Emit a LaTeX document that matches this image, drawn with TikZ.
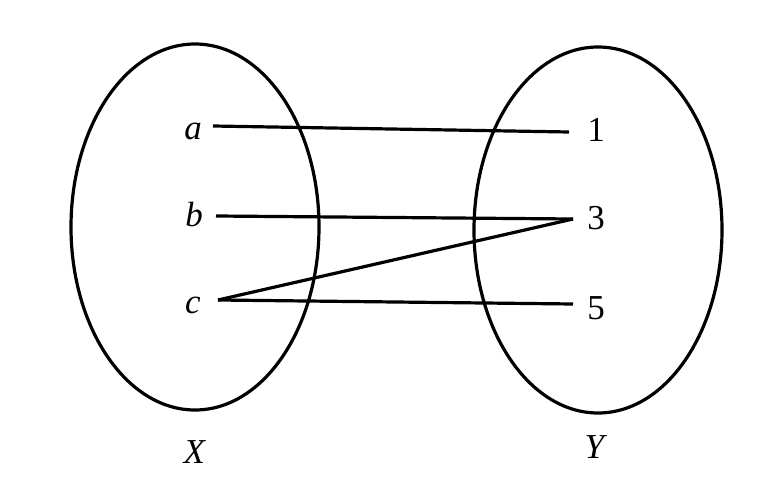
\documentclass[tikz,border=0pt]{standalone}
\usepackage{fontspec}
\setmainfont{Liberation Serif}
\begin{document}
\begin{tikzpicture}[x=1pt,y=-1pt,
  setline/.style={line width=3.2pt},
  lbl/.style={font=\fontsize{35}{42}\selectfont, inner sep=0pt}]
\useasboundingbox (0,0) rectangle (768,484);
% sets
\draw[setline] (195,227) ellipse [x radius=124, y radius=183];
\draw[setline] (598,230) ellipse [x radius=124, y radius=183];
% labels
\node[lbl] (a) at (193,131) {\textit{a}};
\node[lbl] (b) at (194,215) {\textit{b}};
\node[lbl] (c) at (193,305) {\textit{c}};
\node[lbl] (n1) at (596,130) {1};
\node[lbl] (n3) at (596,218) {3};
\node[lbl] (n5) at (596,308) {5};
\node[lbl] (X) at (195,452) {\textit{X}};
\node[lbl] (Y) at (596,447) {\textit{Y}};
% connector ends
\coordinate (pa) at (213,126);
\coordinate (pb) at (216,216);
\coordinate (pc) at (218,300);
\coordinate (p1) at (569,132);
\coordinate (p3) at (573,219);
\coordinate (p5) at (573,304);
\draw[setline] (pa) -- (p1);
\draw[setline] (pb) -- (p3);
\draw[setline] (pc) -- (p3);
\draw[setline] (pc) -- (p5);
\end{tikzpicture}
\end{document}
